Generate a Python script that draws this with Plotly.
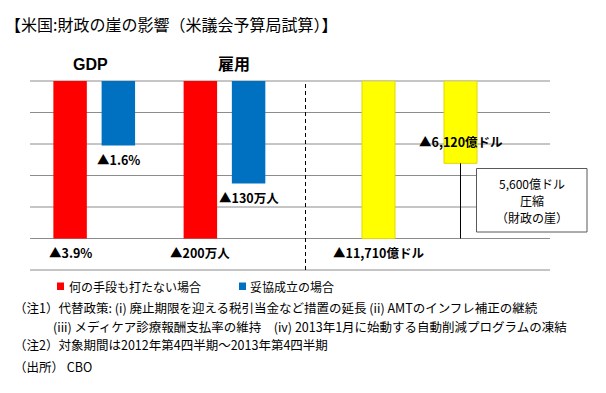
import plotly.graph_objects as go

W, H = 606, 393

# ---------------- data ----------------
groups = ["GDP", "雇用"]
scenario_names = ["何の手段も打たない場合", "妥協成立の場合"]
scenario_colors = ["#FF0000", "#0070C0"]
gdp_values = [-3.9, -1.6]          # % (no action, compromise)
jobs_values = [-200, -130]         # 万人
years = ["2012", "2013"]
deficit_values = [-11710, -6120]   # 億ドル
year_color = "#FFFF00"

gdp_labels = ["▲{:.1f}%".format(abs(v)) for v in gdp_values]
jobs_labels = ["▲{}万人".format(abs(v)) for v in jobs_values]
deficit_labels = ["▲{:,}億ドル".format(abs(v)) for v in deficit_values]

title_text = "【米国:財政の崖の影響（米議会予算局試算）】"
box_lines = ["5,600億ドル", "圧縮", "（財政の崖）"]
notes = [
    "（注1）代替政策: (i) 廃止期限を迎える税引当金など措置の延長 (ii) AMTのインフレ補正の継続",
    "(iii) メディケア診療報酬支払率の維持　(iv) 2013年1月に始動する自動削減プログラムの凍結",
    "（注2）対象期間は2012年第4四半期～2013年第4四半期",
    "（出所） CBO",
]

# ---------------- helpers ----------------
def px(x):
    return x / W

def py(y):
    return 1 - y / H

JP = "Noto Sans CJK JP"
LAT = "Liberation Sans, Noto Sans CJK JP"

Y_DOM = [py(270), py(81)]
bw_left = 0.257
sep_left = 0.1852
off_left = [-sep_left - bw_left / 2, sep_left - bw_left / 2]
bw_right = 0.4024

fig = go.Figure()

# left panel: GDP on y, jobs on y2 (same x)
for i in range(2):
    fig.add_trace(go.Bar(
        x=[groups[0]], y=[gdp_values[i]], xaxis="x", yaxis="y",
        marker=dict(color=scenario_colors[i], line=dict(width=0)),
        width=bw_left, offset=off_left[i], name=scenario_names[i],
        showlegend=False, hoverinfo="skip"))
    fig.add_trace(go.Bar(
        x=[groups[1]], y=[jobs_values[i]], xaxis="x", yaxis="y2",
        marker=dict(color=scenario_colors[i], line=dict(width=0)),
        width=bw_left, offset=off_left[i], name=scenario_names[i],
        showlegend=False, hoverinfo="skip"))

# right panel: deficit
fig.add_trace(go.Bar(
    x=years, y=deficit_values, xaxis="x2", yaxis="y3",
    marker=dict(color=year_color, line=dict(width=1, color="#E2D800")),
    width=bw_right, offset=-bw_right / 2, showlegend=False, hoverinfo="skip"))

hidden = dict(showgrid=False, zeroline=False, showticklabels=False,
              showline=False, ticks="")

fig.update_layout(
    width=W, height=H, autosize=False,
    margin=dict(l=0, r=0, t=0, b=0),
    paper_bgcolor="white", plot_bgcolor="rgba(0,0,0,0)",
    barmode="overlay", showlegend=False,
    xaxis=dict(domain=[px(29.1), px(289.6)], type="category",
               categoryarray=groups, categoryorder="array",
               range=[-0.5, 1.5], anchor="y", **hidden),
    xaxis2=dict(domain=[px(337.5), px(501.5)], type="category",
                categoryarray=years, categoryorder="array",
                range=[-0.5, 1.5], anchor="y3", **hidden),
    yaxis=dict(domain=Y_DOM, range=[min(gdp_values) * 6 / 5, 0],
               anchor="x", **hidden),
    yaxis2=dict(range=[min(jobs_values) * 6 / 5, 0], overlaying="y",
                anchor="x", **hidden),
    yaxis3=dict(domain=Y_DOM, range=[min(deficit_values) * 6 / 5, 0],
                anchor="x2", **hidden),
)

shapes = []
# gridlines
for k in range(7):
    shapes.append(dict(type="line", xref="paper", yref="y domain",
                       x0=px(30), x1=px(550), y0=k / 6, y1=k / 6,
                       line=dict(color="#8C8C8C", width=1), layer="below"))
# dashed separator
shapes.append(dict(type="line", xref="paper", yref="y domain",
                   x0=px(305.5), x1=px(305.5), y0=0, y1=1,
                   line=dict(color="black", width=1, dash="4px,3px")))
# gap line (2013 bar end down to 2012 level)
shapes.append(dict(type="line", xref="x2", yref="y3",
                   x0=1, x1=1, y0=deficit_values[1], y1=deficit_values[0],
                   line=dict(color="black", width=1)))
# explanation box
shapes.append(dict(type="rect", xref="paper", yref="paper",
                   x0=px(476.5), x1=px(587), y0=py(232), y1=py(168.5),
                   line=dict(color="#595959", width=1), fillcolor="white"))
# legend squares
leg_sq_x = [57, 239]
for i in range(2):
    shapes.append(dict(type="rect", xref="paper", yref="paper",
                       x0=px(leg_sq_x[i]), x1=px(leg_sq_x[i] + 7),
                       y0=py(290), y1=py(282.5),
                       line=dict(width=0), fillcolor=scenario_colors[i]))
fig.update_layout(shapes=shapes)

ann = []
# title
ann.append(dict(text=title_text, xref="paper", yref="paper", x=px(3), y=py(24),
                xanchor="left", yanchor="middle", showarrow=False,
                font=dict(family=JP, size=16, color="black")))
# headers
hdr = [("x", groups[0], -4), ("x", groups[1], 10), ("x2", years[0], -2.5), ("x2", years[1], 3)]
for xr, cat, sh in hdr:
    ann.append(dict(text="<b>%s</b>" % cat, xref=xr, yref="paper", x=cat, y=py(64),
                    xshift=sh, xanchor="center", yanchor="middle", showarrow=False,
                    font=dict(family=LAT, size=16, color="black")))
# value labels
centers_left = [off_left[i] + bw_left / 2 for i in range(2)]
LBL = dict(family=JP, size=12.5, color="black")
for i in range(2):
    ann.append(dict(text="<b>%s</b>" % gdp_labels[i], xref="x", yref="y",
                    x=0 + centers_left[i], y=gdp_values[i], yshift=-14,
                    xanchor="center", yanchor="middle", showarrow=False, font=LBL))
    ann.append(dict(text="<b>%s</b>" % jobs_labels[i], xref="x", yref="y2",
                    x=1 + centers_left[i], y=jobs_values[i], yshift=-14,
                    xanchor="center", yanchor="middle", showarrow=False, font=LBL))
year_shift = [-14, 21.5]
for i in range(2):
    ann.append(dict(text="<b>%s</b>" % deficit_labels[i], xref="x2", yref="y3",
                    x=i, y=deficit_values[i], yshift=year_shift[i],
                    xanchor="center", yanchor="middle", showarrow=False, font=LBL))
# box text
for t, by in zip(box_lines, [183.5, 200.5, 217.5]):
    ann.append(dict(text=t, xref="paper", yref="paper", x=px(531.5), y=py(by),
                    xanchor="center", yanchor="middle", showarrow=False,
                    font=dict(family=JP, size=12, color="black")))
# legend texts
leg_txt_x = [67, 248]
for i in range(2):
    ann.append(dict(text=scenario_names[i], xref="paper", yref="paper",
                    x=px(leg_txt_x[i]), y=py(286.5), xanchor="left", yanchor="middle",
                    showarrow=False, font=dict(family=JP, size=12, color="black")))
# notes
note_pos = [(12, 307.5), (51, 326), (12, 344.5), (12, 366)]
for t, (nx, ny) in zip(notes, note_pos):
    ann.append(dict(text=t, xref="paper", yref="paper", x=px(nx), y=py(ny),
                    xanchor="left", yanchor="middle", showarrow=False,
                    font=dict(family=JP, size=12.5, color="black")))
fig.update_layout(annotations=ann)

fig.write_html("out.html", config={"displayModeBar": False},
               post_script="document.body.style.margin='0';")
